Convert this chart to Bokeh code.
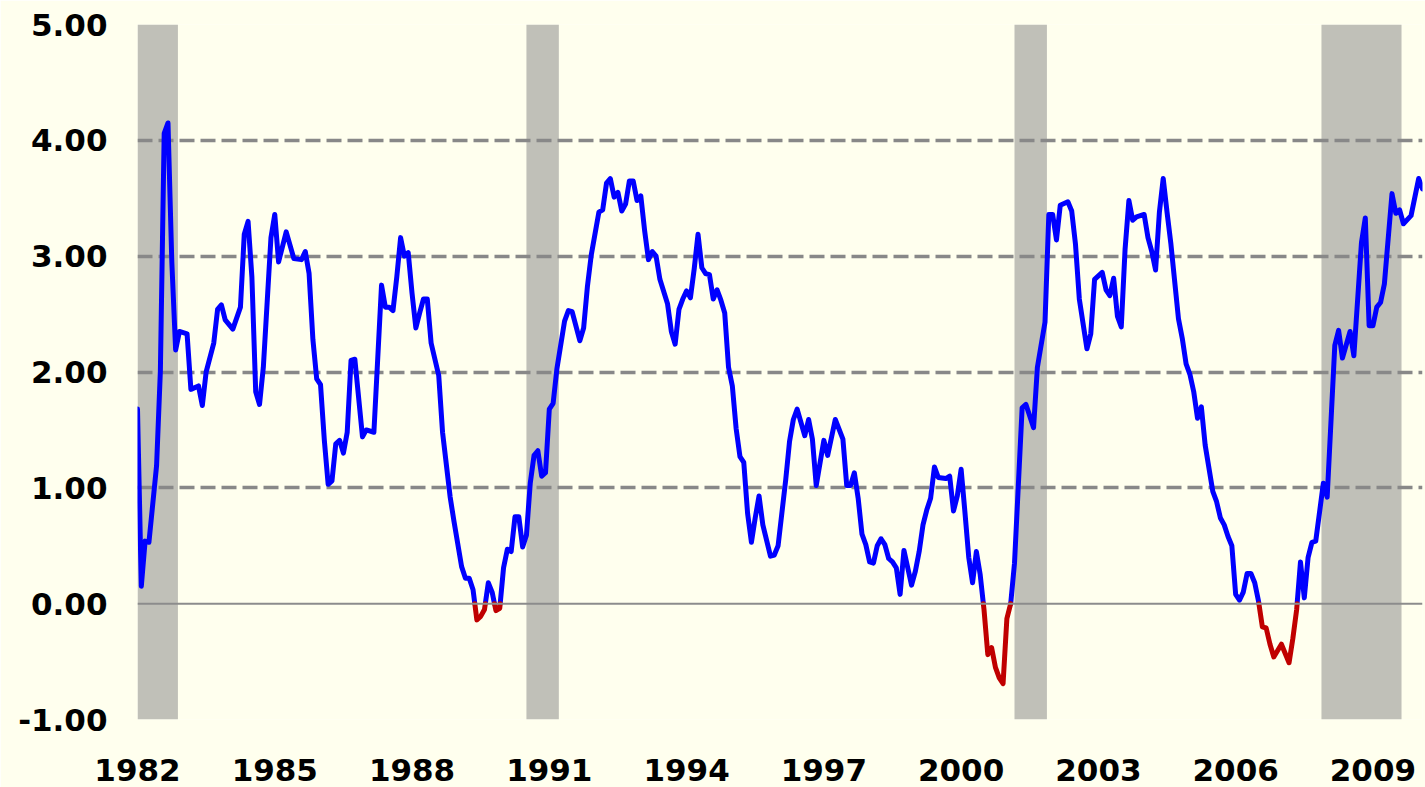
from bokeh.plotting import figure
from bokeh.models import FixedTicker, Span, Range1d
from bokeh.embed import file_html
from bokeh.resources import INLINE

# month index counted from Jan 1982 (0 = Jan 1982)
month_idx = [
    0, 1, 2, 3, 5, 6, 7, 8, 9, 10, 11,
    13, 14, 16, 17, 18, 20, 21, 22, 23,
    25, 27, 28, 29, 30, 31, 32, 33, 35,
    36, 37, 39, 41, 43, 44, 45, 46, 47,
    48, 49, 50, 51, 52, 53, 54, 55, 56, 57, 59,
    60, 62, 64, 65, 66, 67, 68, 69, 70, 71,
    72, 73, 74, 75, 76, 77, 79, 80, 82, 83,
    85, 86, 87, 88, 89, 90, 91, 92, 93, 94, 95,
    96, 97, 98, 99, 100, 101, 102, 103, 104, 105, 106, 107,
    108, 109, 110, 112, 113, 114, 116, 117, 118, 119,
    121, 122, 123, 124, 125, 126, 127, 128, 129, 130, 131,
    132, 133, 134, 135, 136, 137, 139, 140, 141, 142, 143,
    144, 145, 146, 147, 148, 149, 150, 151, 152, 153, 154, 155,
    156, 157, 158, 159, 160, 161, 162, 163, 164, 166, 167,
    168, 170, 171, 172, 173, 175, 176, 177, 178,
    180, 181, 183, 185, 186, 187, 188, 189, 190, 191,
    192, 193, 194, 195, 196, 197, 198, 199, 200, 201, 202, 203,
    204, 205, 206, 207, 208, 209, 210, 212, 213, 214, 215,
    216, 217, 218, 219, 220, 221, 222, 223, 224, 225, 226, 227,
    228, 229, 230, 232, 233, 235, 236, 238, 239,
    240, 241, 242, 244, 245, 246, 247, 249, 250, 251,
    252, 253, 254, 255, 256, 257, 258, 259, 260, 261, 262,
    264, 265, 266, 267, 268, 269, 270, 271, 273, 274, 275,
    276, 277, 278, 279, 280, 282, 283, 284, 285, 286, 287,
    288, 289, 290, 291, 292, 293, 294, 295, 296, 297, 298,
    300, 302, 303, 304, 305, 306, 307, 308, 309, 311,
    312, 314, 315, 316, 318, 319, 321, 322, 323,
    324, 325, 326, 327, 329, 330, 331, 332, 334, 336, 337,
]
spread = [
    1.68, 0.15, 0.54, 0.53, 1.19, 2.01, 4.06, 4.15, 2.95, 2.19, 2.35,
    2.33, 1.85, 1.88, 1.71, 2.00, 2.25, 2.54, 2.58, 2.45,
    2.37, 2.56, 3.19, 3.30, 2.82, 1.83, 1.72, 2.04, 3.16,
    3.36, 2.95, 3.21, 2.98, 2.97, 3.04, 2.85, 2.28, 1.94,
    1.89, 1.41, 1.03, 1.06, 1.38, 1.41, 1.30, 1.48, 2.10, 2.11, 1.44,
    1.50, 1.48, 2.75, 2.56, 2.56, 2.53, 2.82, 3.16, 3.00, 3.03,
    2.68, 2.38, 2.51, 2.63, 2.63, 2.25, 1.97, 1.48, 0.92, 0.71,
    0.32, 0.22, 0.22, 0.12, -0.14, -0.11, -0.05, 0.18, 0.10, -0.06, -0.04,
    0.31, 0.47, 0.45, 0.75, 0.75, 0.49, 0.59, 1.04, 1.28, 1.32, 1.10, 1.13,
    1.68, 1.73, 2.03, 2.44, 2.53, 2.52, 2.27, 2.38, 2.74, 3.01,
    3.38, 3.40, 3.63, 3.67, 3.51, 3.55, 3.39, 3.45, 3.65, 3.65, 3.48,
    3.52, 3.22, 2.97, 3.04, 3.00, 2.80, 2.59, 2.35, 2.24, 2.54, 2.63,
    2.70, 2.64, 2.89, 3.19, 2.90, 2.85, 2.84, 2.63, 2.71, 2.62, 2.51, 2.04,
    1.88, 1.51, 1.27, 1.22, 0.78, 0.53, 0.74, 0.93, 0.68, 0.41, 0.42,
    0.50, 1.07, 1.40, 1.59, 1.68, 1.45, 1.59, 1.42, 1.02,
    1.41, 1.28, 1.59, 1.42, 1.02, 1.02, 1.13, 0.91, 0.60, 0.51,
    0.36, 0.35, 0.50, 0.56, 0.51, 0.39, 0.36, 0.31, 0.08, 0.46, 0.31, 0.16,
    0.28, 0.45, 0.68, 0.81, 0.91, 1.18, 1.09, 1.08, 1.10, 0.80, 0.93,
    1.16, 0.79, 0.40, 0.18, 0.45, 0.25, -0.05, -0.44, -0.38, -0.55, -0.64, -0.69,
    -0.13, 0.00, 0.35, 1.69, 1.72, 1.52, 2.04, 2.43, 3.36,
    3.36, 3.14, 3.44, 3.47, 3.39, 3.10, 2.63, 2.20, 2.33, 2.80,
    2.83, 2.86, 2.71, 2.66, 2.81, 2.48, 2.39, 3.06, 3.48, 3.31, 3.34,
    3.36, 3.16, 3.04, 2.88, 3.38, 3.67, 3.38, 3.11, 2.46, 2.29, 2.07,
    1.98, 1.83, 1.60, 1.70, 1.37, 0.97, 0.88, 0.74, 0.68, 0.58, 0.50,
    0.08, 0.03, 0.10, 0.26, 0.26, 0.18, 0.02, -0.20, -0.21, -0.35, -0.46,
    -0.35, -0.51, -0.30, -0.05, 0.36, 0.05, 0.40, 0.53, 0.54, 1.04,
    0.92, 2.23, 2.36, 2.12, 2.35, 2.14, 3.12, 3.33, 2.40,
    2.40, 2.56, 2.60, 2.76, 3.54, 3.37, 3.40, 3.28, 3.35, 3.67, 3.58,
]

tick_months = [0, 36, 72, 108, 144, 180, 216, 252, 288, 324]
tick_labels = ["1982", "1985", "1988", "1991", "1994", "1997", "2000", "2003", "2006", "2009"]
y_ticks = [-1, 0, 1, 2, 3, 4, 5]
y_grid = [-1, 1, 2, 3, 4, 5]

# recession periods (month index from Jan 1982)
rec_start = [0, 102, 230, 310.5]
rec_end = [10.6, 110.5, 238.5, 331.5]

BG = "#FFFFEE"
FONT = "DejaVu Sans"

# --- split the series into positive (blue) and negative (red) runs
pts = []
for k in range(len(month_idx)):
    x, y = month_idx[k], spread[k]
    if k > 0:
        x0, y0 = month_idx[k - 1], spread[k - 1]
        if y0 * y < 0:
            xc = x0 + (0 - y0) * (x - x0) / (y - y0)
            pts.append((xc, 0.0))
    pts.append((x, y))

blue_xs, blue_ys, red_xs, red_ys = [], [], [], []
cur_neg = None
cur_x, cur_y = [], []
for k in range(1, len(pts)):
    (xa, ya), (xb, yb) = pts[k - 1], pts[k]
    neg = min(ya, yb) < 0
    if neg != cur_neg:
        if cur_x:
            (red_xs if cur_neg else blue_xs).append(cur_x)
            (red_ys if cur_neg else blue_ys).append(cur_y)
        cur_x, cur_y = [xa], [ya]
        cur_neg = neg
    cur_x.append(xb)
    cur_y.append(yb)
if cur_x:
    (red_xs if cur_neg else blue_xs).append(cur_x)
    (red_ys if cur_neg else blue_ys).append(cur_y)

p = figure(
    width=1425, height=787,
    x_range=Range1d(0, 337), y_range=Range1d(-1, 5),
    output_backend="svg", toolbar_location=None,
    min_border_left=137, min_border_right=3,
    min_border_top=24, min_border_bottom=68,
)
p.background_fill_color = BG
p.border_fill_color = BG
p.outline_line_color = None

# recession shading
r = p.quad(left=rec_start, right=rec_end, bottom=-1, top=5,
           fill_color="#C0C0B8", line_color=None)
r.level = "image"

# grid
p.xgrid.grid_line_color = None
p.ygrid.ticker = FixedTicker(ticks=y_grid)
p.ygrid.grid_line_color = "#888888"
p.ygrid.grid_line_width = 3.5
p.ygrid.grid_line_dash = "15 6"

zero = Span(location=0, dimension="width", line_color="#8C8C8C", line_width=2)
p.add_layout(zero)

p.multi_line(blue_xs, blue_ys, line_color="#0000FF", line_width=5, line_join="round", line_cap="round")
p.multi_line(red_xs, red_ys, line_color="#C00000", line_width=5, line_join="round", line_cap="round")

# axes
p.xaxis.ticker = FixedTicker(ticks=tick_months)
p.xaxis.major_label_overrides = {m: lab for m, lab in zip(tick_months, tick_labels)}
p.yaxis.ticker = FixedTicker(ticks=y_ticks)
p.yaxis.major_label_overrides = {v: f"{v:.2f}" for v in y_ticks}
for ax in (p.xaxis, p.yaxis):
    ax.axis_line_color = None
    ax.major_tick_line_color = None
    ax.minor_tick_line_color = None
    ax.major_tick_out = 0
    ax.major_tick_in = 0
    ax.major_label_text_font = FONT
    ax.major_label_text_font_style = "bold"
    ax.major_label_text_font_size = "31px"
    ax.major_label_text_color = "#000000"
p.xaxis.major_label_standoff = 39
p.yaxis.major_label_standoff = 30

html = file_html(p, INLINE)
html = html.replace("<body>", f'<body style="background:{BG}">', 1)
open("out.html", "w").write(html)
